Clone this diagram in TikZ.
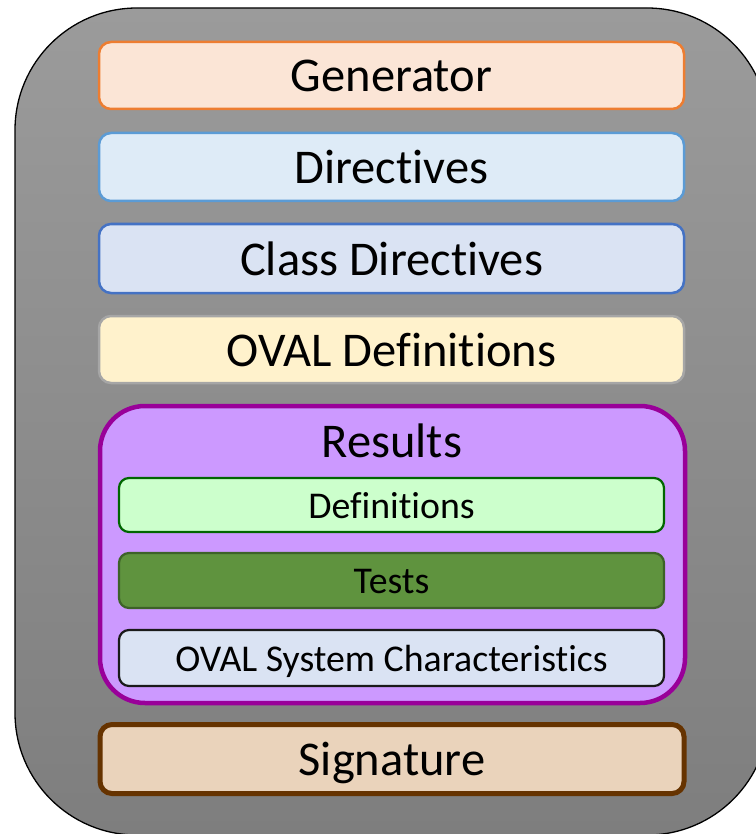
\documentclass[tikz,border=0pt]{standalone}
\usepackage{fontspec}
\setmainfont{Carlito}[Ligatures={NoCommon,NoRequired,NoContextual}]
\definecolor{shellTop}{HTML}{9B9B9B}
\definecolor{shellBot}{HTML}{7E7E7E}
\definecolor{genFill}{HTML}{FBE5D6}
\definecolor{genLine}{HTML}{ED7D31}
\definecolor{dirFill}{HTML}{DEEBF7}
\definecolor{dirLine}{HTML}{5B9BD5}
\definecolor{clsFill}{HTML}{DAE3F3}
\definecolor{clsLine}{HTML}{4472C4}
\definecolor{ovalFill}{HTML}{FFF2CC}
\definecolor{ovalLine}{HTML}{A6A6A6}
\definecolor{resFill}{HTML}{CC99FF}
\definecolor{resLine}{HTML}{990099}
\definecolor{defFill}{HTML}{CCFFCC}
\definecolor{defLine}{HTML}{006600}
\definecolor{tstFill}{HTML}{5F933E}
\definecolor{tstLine}{HTML}{3D6228}
\definecolor{oscFill}{HTML}{DAE3F3}
\definecolor{oscLine}{HTML}{1A1A1A}
\definecolor{sigFill}{HTML}{EAD3BB}
\definecolor{sigLine}{HTML}{663300}
\tikzset{
  bigbox/.style={rounded corners=12pt, minimum width=585pt, inner sep=0pt,
    font=\fontsize{48.5}{52}\selectfont, text=black, line width=2.5pt,
    text height=33pt, text depth=0pt},
  smallbox/.style={rounded corners=10pt, minimum width=545pt, inner sep=0pt,
    font=\fontsize{37.8}{41}\selectfont, text=black, line width=2.2pt,
    text height=26pt, text depth=0pt}
}
\begin{document}
\begin{tikzpicture}[x=1pt, y=-1pt]
\useasboundingbox (0,0) rectangle (755,834);
% grey container
\shade[top color=shellTop, bottom color=shellBot, draw=black, line width=1.3pt,
  rounded corners=122pt] (15,8) rectangle (769,835);
% header parts
\node[bigbox, fill=genFill, draw=genLine, minimum height=67pt] (gen) at (391.5,75.5) {Generator};
\node[bigbox, fill=dirFill, draw=dirLine, minimum height=68pt] (dir) at (391.5,167) {Directives};
\node[bigbox, fill=clsFill, draw=clsLine, minimum height=69pt] (cls) at (391.5,258.5) {Class Directives};
\node[bigbox, fill=ovalFill, draw=ovalLine, minimum height=67pt] (ovaldef) at (391.5,349.5) {OVAL Definitions};
% results group
\node[rounded corners=45pt, fill=resFill, draw=resLine, line width=4.5pt,
  minimum width=585pt, minimum height=297pt, inner sep=0pt] (res) at (392.5,554.5) {};
\node[font=\fontsize{48.5}{52}\selectfont, inner sep=0pt, text height=33pt, text depth=0pt] (restitle) at (392,441) {Results};
\node[smallbox, fill=defFill, draw=defLine, minimum height=54pt] (defs) at (391.5,505) {Definitions};
\node[smallbox, fill=tstFill, draw=tstLine, minimum height=55pt] (tests) at (391.5,580.5) {Tests};
\node[smallbox, fill=oscFill, draw=oscLine, minimum height=56pt] (osc) at (391.5,658) {OVAL System Characteristics};
% signature
\node[bigbox, fill=sigFill, draw=sigLine, line width=5pt, minimum width=584pt, minimum height=69pt] (sig) at (392,759) {Signature};
\end{tikzpicture}
\end{document}
